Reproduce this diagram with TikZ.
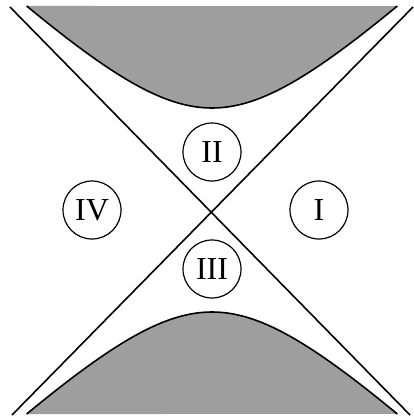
\documentclass[tikz,border=0pt]{standalone}
\usepackage{fontspec}
\setmainfont{Liberation Serif}
\usepackage{tikz}
\usetikzlibrary{math}

\begin{document}
\begin{tikzpicture}[x=1pt, y=-1pt,
    region/.style={circle, draw, line width=1.2pt, minimum size=58pt, inner sep=0pt, font=\fontsize{32}{36}\selectfont},
    rim/.style={line width=1.6pt},
    zone/.style={fill=black!38}]
    \tikzmath{\xC = 212; \yC = 210; \a = 102; \b = 107; \tMax = 1.317;}
    \useasboundingbox (0,0) rectangle (413,417);

    % shaded zones
    \fill[zone] plot[domain=-\tMax:\tMax, samples=80, variable=\t] ({\xC + \b*sinh(\t)}, {\yC - \a*cosh(\t)}) -- cycle;
    \fill[zone] plot[domain=-\tMax:\tMax, samples=80, variable=\t] ({\xC + \b*sinh(\t)}, {\yC + \a*cosh(\t)}) -- cycle;
    \draw[rim] plot[domain=-\tMax:\tMax, samples=80, variable=\t] ({\xC + \b*sinh(\t)}, {\yC - \a*cosh(\t)});
    \draw[rim] plot[domain=-\tMax:\tMax, samples=80, variable=\t] ({\xC + \b*sinh(\t)}, {\yC + \a*cosh(\t)});

    % diagonals
    \coordinate (nw) at (10,7);
    \coordinate (se) at (410,415);
    \coordinate (ne) at (413,7);
    \coordinate (sw) at (12,415);
    \draw[rim] (nw) -- (se);
    \draw[rim] (ne) -- (sw);

    \node[region](reg-i) at (319,210) {I};
    \node[region](reg-ii) at (212,152) {II};
    \node[region](reg-iii) at (212,269) {III};
    \node[region](reg-iv) at (92,210) {IV};
\end{tikzpicture}
\end{document}
